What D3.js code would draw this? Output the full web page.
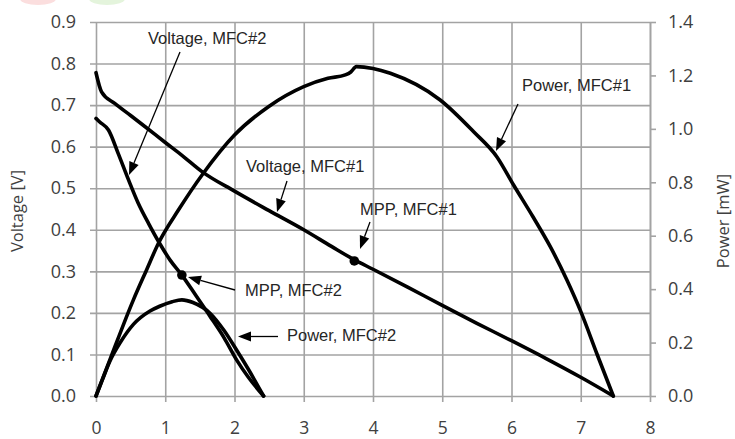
<!DOCTYPE html>
<html>
<head>
<meta charset="utf-8">
<script src="https://cdn.jsdelivr.net/npm/d3@7"></script>
<style>
  body { margin: 0; background: #fff; overflow: hidden; }
  svg { display: block; }
  .tick text { font-family: "Open Sans", sans-serif; fill: #404040; }
  .note { font-family: "Liberation Sans", Arial, sans-serif; font-size: 16.5px; fill: #262626; }
</style>
</head>
<body>
<div id="chart"></div>
<script>
// current [mA] on x, voltage [V] on left axis, power [mW] on right axis
const currentV1 = [0, 0.08, 0.27, 0.5, 0.71, 1.0, 1.25, 1.53, 2.0, 2.5, 3.0, 3.4, 3.74, 4.0, 4.5, 5.0, 5.5, 6.0, 6.5, 7.0, 7.47];
const voltage1 = [0.778, 0.732, 0.704, 0.675, 0.648, 0.61, 0.578, 0.54, 0.493, 0.446, 0.40, 0.36, 0.327, 0.305, 0.262, 0.218, 0.175, 0.133, 0.09, 0.045, 0.0];

const currentV2 = [0, 0.05, 0.18, 0.32, 0.47, 0.61, 0.76, 0.92, 1.07, 1.24, 1.45, 1.65, 1.85, 2.03, 2.2, 2.42];
const voltage2 = [0.668, 0.66, 0.64, 0.584, 0.52, 0.464, 0.415, 0.367, 0.327, 0.291, 0.24, 0.191, 0.14, 0.087, 0.045, 0.0];

const currentP1 = [0, 0.2, 0.54, 0.73, 0.9, 1.19, 1.55, 2.0, 2.49, 3.0, 3.35, 3.6, 3.68, 3.76, 4.0, 4.25, 4.97, 5.45, 5.79, 6.03, 6.31, 6.56, 6.8, 7.01, 7.23, 7.47];
const power1 = [0, 0.135, 0.36, 0.472, 0.571, 0.696, 0.834, 0.977, 1.083, 1.158, 1.189, 1.202, 1.213, 1.233, 1.226, 1.208, 1.108, 0.99, 0.895, 0.79, 0.671, 0.559, 0.434, 0.31, 0.16, 0];

const currentP2 = [0, 0.1, 0.2, 0.35, 0.54, 0.78, 0.92, 1.1, 1.24, 1.4, 1.65, 1.85, 2.03, 2.2, 2.42];
const power2 = [0, 0.066, 0.13, 0.2, 0.268, 0.318, 0.336, 0.353, 0.36, 0.35, 0.309, 0.245, 0.172, 0.1, 0];

const mppCurrent = [3.73, 1.24];
const mppVoltage = [0.325, 0.291];

const xTicks = [0, 1, 2, 3, 4, 5, 6, 7, 8];
const voltTicks = [0, 0.1, 0.2, 0.3, 0.4, 0.5, 0.6, 0.7, 0.8, 0.9];
const powerTicks = [0, 0.2, 0.4, 0.6, 0.8, 1.0, 1.2, 1.4];

const width = 735, height = 439;
const margin = { left: 96, right: 650, top: 22, bottom: 396 };

const svg = d3.select("#chart").append("svg")
  .attr("width", width)
  .attr("height", height);

// faint logo remnants at the top edge
svg.append("ellipse").attr("cx", 38).attr("cy", -1).attr("rx", 18).attr("ry", 6).attr("fill", "#fbdede");
svg.append("ellipse").attr("cx", 107).attr("cy", -1).attr("rx", 18).attr("ry", 6).attr("fill", "#e4f4dc");

const x = d3.scaleLinear().domain([0, 8]).range([margin.left, margin.right]);
const yV = d3.scaleLinear().domain([0, 0.9]).range([margin.bottom, margin.top]);
const yP = d3.scaleLinear().domain([0, 1.4]).range([margin.bottom, margin.top]);

const grid = "#a3a3a3";

// horizontal gridlines + outward ticks + labels
const gy = svg.append("g")
  .attr("transform", `translate(${margin.right},0)`)
  .call(d3.axisLeft(yV).tickValues(voltTicks).tickFormat(d3.format(".1f"))
    .tickSize(margin.right - margin.left + 6).tickSizeOuter(0).tickPadding(14));
gy.select(".domain").remove();
gy.selectAll(".tick line").attr("stroke", grid).attr("stroke-width", 1.6);
gy.selectAll(".tick text").attr("font-size", 18);

// vertical gridlines + labels
const gx = svg.append("g")
  .attr("transform", `translate(0,${margin.top})`)
  .call(d3.axisBottom(x).tickValues(xTicks).tickFormat(d3.format("d"))
    .tickSize(margin.bottom - margin.top + 6).tickSizeOuter(0).tickPadding(20));
gx.select(".domain").remove();
gx.selectAll(".tick line").attr("stroke", grid).attr("stroke-width", 1.6);
gx.selectAll(".tick text").attr("font-size", 17.5);

// right axis
const gr = svg.append("g")
  .attr("transform", `translate(${margin.right},0)`)
  .call(d3.axisRight(yP).tickValues(powerTicks).tickFormat(d3.format(".1f"))
    .tickSize(6).tickSizeOuter(0).tickPadding(12));
gr.select(".domain").attr("stroke", grid).attr("stroke-width", 1.6);
gr.selectAll(".tick line").attr("stroke", grid).attr("stroke-width", 1.6);
gr.selectAll(".tick text").attr("font-size", 18);

// axis titles
svg.append("text")
  .attr("transform", `translate(23,${(margin.top + margin.bottom) / 2 + 2}) rotate(-90)`)
  .attr("text-anchor", "middle")
  .attr("font-family", "Open Sans, sans-serif")
  .attr("font-size", 16.5)
  .attr("fill", "#404040")
  .text("Voltage [V]");
svg.append("text")
  .attr("transform", `translate(729,${(margin.top + margin.bottom) / 2 + 12}) rotate(-90)`)
  .attr("text-anchor", "middle")
  .attr("font-family", "Open Sans, sans-serif")
  .attr("font-size", 16.5)
  .attr("fill", "#404040")
  .text("Power [mW]");

// curves
const lineV = d3.line().x(d => x(d[0])).y(d => yV(d[1])).curve(d3.curveMonotoneX);
const lineP = d3.line().x(d => x(d[0])).y(d => yP(d[1])).curve(d3.curveMonotoneX);

const curves = [
  { path: lineV(d3.zip(currentV1, voltage1)) },
  { path: lineV(d3.zip(currentV2, voltage2)) },
  { path: lineP(d3.zip(currentP1, power1)) },
  { path: lineP(d3.zip(currentP2, power2)) },
];

svg.selectAll(".curve")
  .data(curves)
  .enter()
  .append("path")
  .attr("class", "curve")
  .attr("d", d => d.path)
  .attr("fill", "none")
  .attr("stroke", "#000")
  .attr("stroke-width", 3.6)
  .attr("stroke-linejoin", "round")
  .attr("stroke-linecap", "round");

svg.selectAll(".mpp")
  .data(d3.zip(mppCurrent, mppVoltage))
  .enter()
  .append("circle")
  .attr("class", "mpp")
  .attr("cx", d => x(d[0]))
  .attr("cy", d => yV(d[1]))
  .attr("r", 4.8)
  .attr("fill", "#000");

// annotations: label text and arrow from (x1,y1) to tip (x2,y2), in pixels
const notes = [
  { text: "Voltage, MFC#2", tx: 148, ty: 44, x1: 180, y1: 52, x2: 129, y2: 175 },
  { text: "Power, MFC#1", tx: 522, ty: 91, x1: 518, y1: 104, x2: 496, y2: 151 },
  { text: "Voltage, MFC#1", tx: 246, ty: 172, x1: 287, y1: 181, x2: 277, y2: 212 },
  { text: "MPP, MFC#1", tx: 360, ty: 215, x1: 370, y1: 222, x2: 360, y2: 249 },
  { text: "MPP, MFC#2", tx: 245, ty: 296, x1: 235, y1: 290, x2: 188, y2: 277 },
  { text: "Power, MFC#2", tx: 287, ty: 341, x1: 278, y1: 336.5, x2: 238, y2: 336.5 },
];

notes.forEach(n => {
  const ang = Math.atan2(n.y2 - n.y1, n.x2 - n.x1);
  const len = 13, half = 5;
  const bx = n.x2 - len * Math.cos(ang), by = n.y2 - len * Math.sin(ang);
  svg.append("line")
    .attr("x1", n.x1).attr("y1", n.y1)
    .attr("x2", bx).attr("y2", by)
    .attr("stroke", "#000").attr("stroke-width", 1.3);
  const p1 = [bx + half * Math.sin(ang), by - half * Math.cos(ang)];
  const p2 = [bx - half * Math.sin(ang), by + half * Math.cos(ang)];
  svg.append("path")
    .attr("d", `M${n.x2},${n.y2}L${p1[0]},${p1[1]}L${p2[0]},${p2[1]}Z`)
    .attr("fill", "#000");
  svg.append("text")
    .attr("class", "note")
    .attr("x", n.tx)
    .attr("y", n.ty)
    .text(n.text);
});
</script>
</body>
</html>
